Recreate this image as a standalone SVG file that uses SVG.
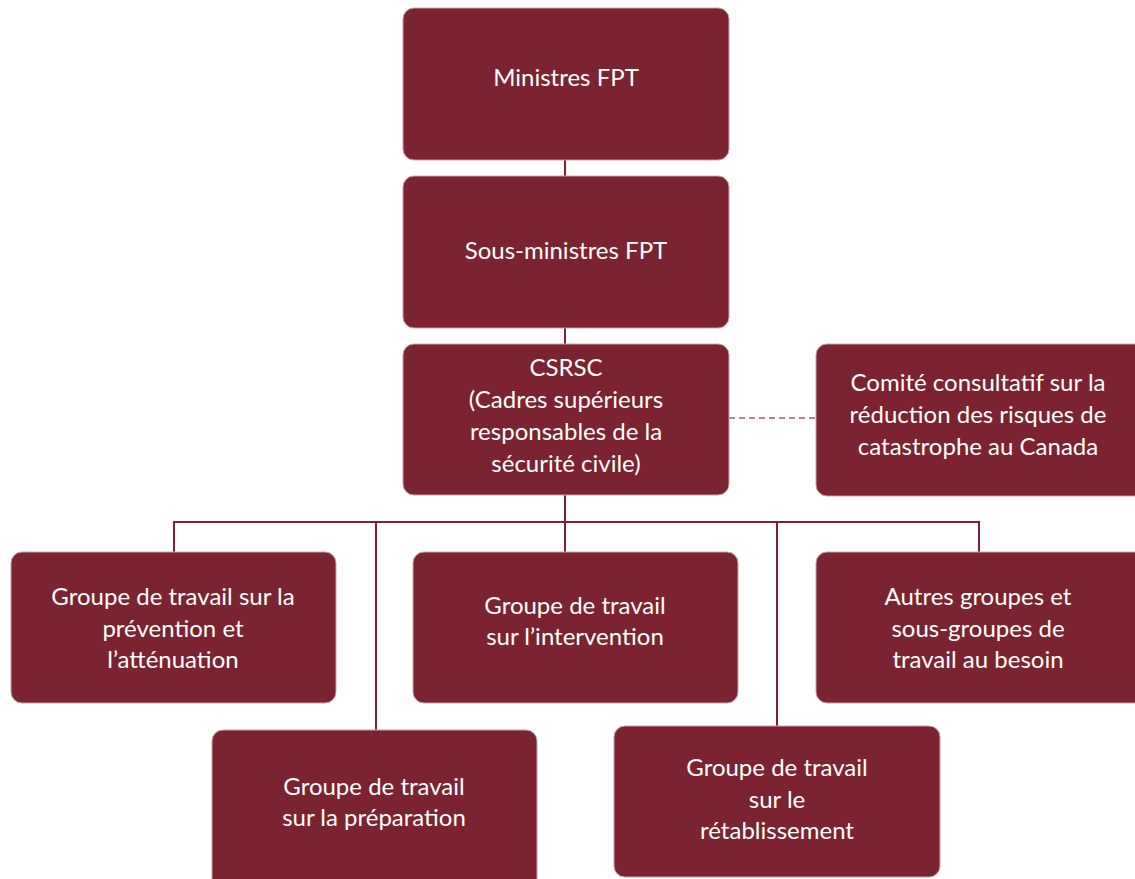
<svg xmlns="http://www.w3.org/2000/svg" width="1135" height="879" viewBox="0 0 1135 879">
<style>
.box{fill:#7b2330;stroke:#c9a3a9;stroke-width:1}
.t{font-family:"Lato","Open Sans",sans-serif;font-size:24px;fill:#ffffff;text-anchor:middle}
.ln{stroke:#7b2330;stroke-width:2;fill:none}
.dash{stroke:#a05a66;stroke-width:1.5;stroke-dasharray:6 4;fill:none}
</style>
<rect width="1135" height="879" fill="#ffffff"/>
<g id="connectors">
<line class="ln" x1="565" y1="160" x2="565" y2="176"/>
<line class="ln" x1="565" y1="328" x2="565" y2="344"/>
<line class="ln" x1="565" y1="495" x2="565" y2="552"/>
<line class="ln" x1="173" y1="522" x2="980" y2="522"/>
<line class="ln" x1="174" y1="521" x2="174" y2="552"/>
<line class="ln" x1="376" y1="521" x2="376" y2="730"/>
<line class="ln" x1="777" y1="521" x2="777" y2="726"/>
<line class="ln" x1="979" y1="521" x2="979" y2="552"/>
<line class="dash" x1="729" y1="418" x2="816" y2="418"/>
</g>
<g id="ministres">
<rect class="box" x="403" y="8" width="326" height="152" rx="11"/>
<text class="t" x="566" y="86">Ministres FPT</text>
</g>
<g id="sous-ministres">
<rect class="box" x="403" y="176" width="326" height="152" rx="11"/>
<text class="t" x="566" y="259">Sous-ministres FPT</text>
</g>
<g id="csrsc">
<rect class="box" x="403" y="344" width="326" height="151" rx="11"/>
<text class="t" x="566" y="376">CSRSC</text>
<text class="t" x="566" y="408">(Cadres supérieurs</text>
<text class="t" x="566" y="440">responsables de la</text>
<text class="t" x="566" y="472">sécurité civile)</text>
</g>
<g id="comite">
<rect class="box" x="816" y="344" width="330" height="152" rx="11"/>
<text class="t" x="978" y="391">Comité consultatif sur la</text>
<text class="t" x="978" y="423">réduction des risques de</text>
<text class="t" x="978" y="455">catastrophe au Canada</text>
</g>
<g id="prevention">
<rect class="box" x="11" y="552" width="325" height="151" rx="11"/>
<text class="t" x="173" y="605">Groupe de travail sur la</text>
<text class="t" x="173" y="637">prévention et</text>
<text class="t" x="173" y="668">l’atténuation</text>
</g>
<g id="intervention">
<rect class="box" x="413" y="552" width="325" height="151" rx="11"/>
<text class="t" x="575" y="614">Groupe de travail</text>
<text class="t" x="575" y="645">sur l’intervention</text>
</g>
<g id="autres">
<rect class="box" x="816" y="552" width="330" height="151" rx="11"/>
<text class="t" x="978" y="605">Autres groupes et</text>
<text class="t" x="978" y="637">sous-groupes de</text>
<text class="t" x="978" y="668">travail au besoin</text>
</g>
<g id="preparation">
<rect class="box" x="212" y="730" width="325" height="160" rx="11"/>
<text class="t" x="374" y="795">Groupe de travail</text>
<text class="t" x="374" y="826">sur la préparation</text>
</g>
<g id="retablissement">
<rect class="box" x="614" y="726" width="326" height="151" rx="11"/>
<text class="t" x="777" y="776">Groupe de travail</text>
<text class="t" x="777" y="808">sur le</text>
<text class="t" x="777" y="839">rétablissement</text>
</g>
</svg>
